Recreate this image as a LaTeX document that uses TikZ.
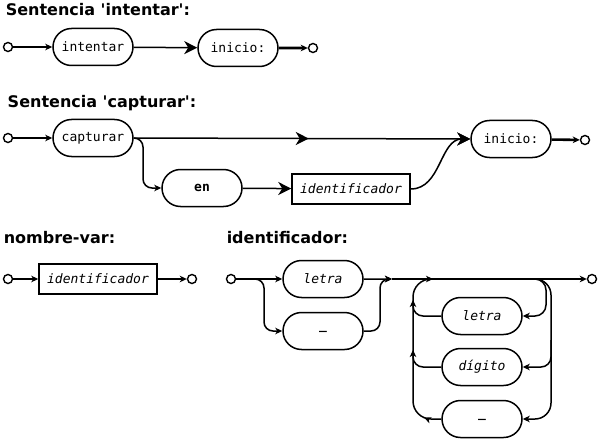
\documentclass[tikz,border=0pt]{standalone}
\usepackage{fontspec}
\setmainfont{DejaVu Sans}
\setmonofont{DejaVu Sans Mono}
\usetikzlibrary{arrows.meta,positioning,shapes.misc,decorations.markings}

\begin{document}
\begin{tikzpicture}[
    x=1pt,y=-1pt,
    line width=1.5pt,
    term/.style={draw,rounded rectangle,minimum width=80pt,minimum height=37pt,inner sep=0pt,font=\fontsize{13}{15}\ttfamily},
    nonterm/.style={draw,rectangle,minimum width=118pt,minimum height=30pt,inner sep=0pt,font=\fontsize{13}{15}\ttfamily\itshape},
    endpt/.style={draw,circle,minimum size=9pt,inner sep=0pt,line width=1.4pt},
    title/.style={anchor=base west,inner sep=0pt,font=\fontsize{16}{19}\selectfont\bfseries},
    >={Stealth[length=7pt,width=6.5pt,inset=2pt]},
    big/.style={-{Stealth[length=13pt,width=13pt,inset=4pt]}},
    thick end/.style={->,line width=2.6pt},
    midbig/.style={postaction=decorate,decoration={markings,mark=at position #1 with {\arrow{Stealth[length=13pt,width=13pt,inset=4pt]}}}},
    midsmall/.style={postaction=decorate,decoration={markings,mark=at position #1 with {\arrow{Stealth[length=7pt,width=6.5pt,inset=2pt]}}}}]
  \useasboundingbox (0,0) rectangle (599,441);

  % intentar
  \node[title] (t1) at (5,16) {Sentencia \textquotesingle intentar\textquotesingle:};
  \node[endpt] (s1) at (8,47) {};
  \node[term] (intentar) at (93,47) {intentar};
  \node[term] (inicio1) at (238,48) {inicio:};
  \node[endpt] (e1) at (313,48) {};
  \draw[->] (s1) -- (intentar);
  \draw[big] (intentar) -- (inicio1);
  \draw[thick end] (inicio1) -- (e1);

  % capturar
  \node[title] (t2) at (7,108) {Sentencia \textquotesingle capturar\textquotesingle:};
  \node[endpt] (s2) at (8,138) {};
  \node[term] (capturar) at (93,138) {capturar};
  \node[term] (inicio2) at (511,139) {inicio:};
  \node[endpt] (e2) at (585,140) {};
  \node[term,font=\fontsize{13}{15}\ttfamily\bfseries] (en) at (202,188) {en};
  \node[nonterm] (ident2) at (351,189) {identificador};
  \draw[->] (s2) -- (capturar);
  \draw[big,midbig=.52] (capturar.east) -- (inicio2.west);
  \draw[->,rounded corners=9pt] (capturar.east) -| (143,188) -- (en.west);
  \draw[big] (en) -- (ident2);
  \draw[big] (ident2.east) to[out=0,in=180] (inicio2.west);
  \draw[thick end] (inicio2) -- (e2);

  % nombre-var
  \node[title] (t3) at (3,243) {nombre-var:};
  \node[endpt] (s3) at (8,279) {};
  \node[nonterm] (ident3) at (98,279) {identificador};
  \node[endpt] (e3) at (192,279) {};
  \draw[->] (s3) -- (ident3);
  \draw[->] (ident3) -- (e3);

  % identificador
  \node[title] (t4) at (226,243) {identificador:};
  \node[endpt] (s4) at (231,279) {};
  \node[term,font=\fontsize{13}{15}\ttfamily\itshape] (letra) at (323,279) {letra};
  \node[term,font=\fontsize{13}{15}\ttfamily\bfseries] (under1) at (323,331) {\_};
  \node[term,font=\fontsize{13}{15}\ttfamily\itshape] (letra2) at (482,316) {letra};
  \node[term,font=\fontsize{13}{15}\ttfamily\itshape] (digito) at (482,367) {dígito};
  \node[term,font=\fontsize{13}{15}\ttfamily\bfseries] (under2) at (482,419) {\_};
  \node[endpt] (e4) at (592,279) {};
  \coordinate (split) at (256,279);
  \coordinate (join) at (392,279);
  \coordinate (back) at (433,279);
  \coordinate (loop) at (526,279);
  \draw[->] (s4) -- (letra);
  \draw[->,rounded corners=9pt] (split) -| (264,331) -- (under1.west);
  \draw[->] (letra) -- (join);
  \draw[->,rounded corners=9pt] (under1.east) -| (380,279) -- (join);
  \draw (join) -- (back);
  \draw[->] (back) -- (e4);
  % loop back
  \draw[->,rounded corners=11pt] (loop) -| (546,316) -- (letra2.east);
  \draw[->,rounded corners=16pt] (loop) -| (551,419) -- (under2.east);
  \draw[->,rounded corners=10pt] (551,340) |- (digito.east);
  \draw[->,rounded corners=18pt,midsmall=.1] (under2.west) -| (413,279) -- (back);
  \draw[->,rounded corners=10pt] (letra2.west) -| (413,300);
  \draw[->,rounded corners=10pt] (digito.west) -| (413,350);
\end{tikzpicture}
\end{document}
